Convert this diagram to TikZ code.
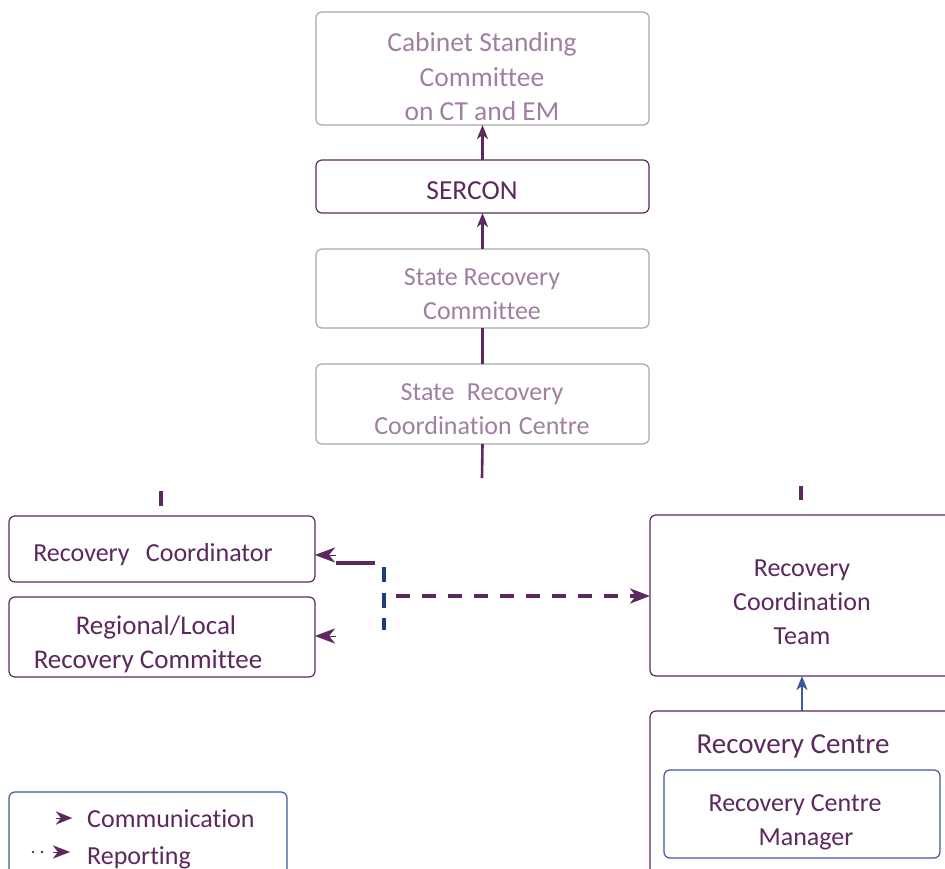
\documentclass[tikz,border=0pt]{standalone}
\usepackage{fontspec}
\setmainfont[Ligatures={NoCommon}]{Carlito}
\usetikzlibrary{arrows.meta}
\definecolor{dpurple}{RGB}{92,40,94}
\definecolor{lpurple}{RGB}{160,128,160}
\definecolor{boxgrey}{RGB}{168,168,168}
\definecolor{dblue}{RGB}{31,60,125}
\definecolor{bblue}{RGB}{60,90,155}
\tikzset{
  boxbase/.style={rounded corners=6pt, line width=1.2pt, inner sep=0pt, outer sep=0pt, fill=white},
  gbox/.style={boxbase, draw=boxgrey},
  pbox/.style={boxbase, draw=dpurple},
  bbox/.style={boxbase, draw=bblue},
  lbl/.style={font=\fontsize{26}{34}\selectfont, text=dpurple, align=center, inner sep=0pt},
  glbl/.style={lbl, text=lpurple},
  vconn/.style={draw=dpurple, line width=2.6pt},
  uphead/.style={-{Stealth[length=14pt,width=11pt,inset=4pt]}},
  bighead/.style={-{Stealth[length=20pt,width=15pt,inset=6pt]}},
}
\begin{document}
\begin{tikzpicture}[x=1pt,y=-1pt]
\useasboundingbox (0,0) rectangle (945,869);
\clip (0,0) rectangle (945,869);
\fill[white] (0,0) rectangle (945,869);

% top column boxes
\node[gbox, minimum width=333pt, minimum height=113pt] (cab) at (482.5,68.5) {};
\node[pbox, minimum width=333pt, minimum height=53pt] (serc) at (482.5,186.5) {};
\node[gbox, minimum width=333pt, minimum height=79pt] (src) at (482.5,288.5) {};
\node[gbox, minimum width=333pt, minimum height=80pt] (srcc) at (482.5,404) {};

\node[glbl, font=\fontsize{27.5}{34.5}\selectfont] (cabt) at (482,77) {Cabinet Standing\\Committee\\on CT and EM};
\node[lbl, font=\fontsize{27.5}{34}\selectfont] (sert) at (472,191) {SERCON};
\node[glbl] (srct) at (482,294.5) {State Recovery\\Committee};
\node[glbl] (srcct) at (482,409.5) {State\hspace{0.25em} Recovery\\Coordination\hspace{0.05em} Centre};

% left boxes
\node[pbox, minimum width=306pt, minimum height=66pt] (rc) at (162,549) {};
\node[pbox, minimum width=306pt, minimum height=80pt] (rl) at (162,637) {};
\node[lbl] (rct) at (153,555) {Recovery\hspace{0.4em} Coordinator};
\node[lbl, font=\fontsize{27}{34}\selectfont] (rlt) at (148,644) {\hspace{16pt}Regional/Local\\Recovery Committee};

% right boxes
\node[pbox, minimum width=304pt, minimum height=161pt] (team) at (802,595.5) {};
\node[lbl] (teamt) at (802,602) {Recovery\\Coordination\\Team};
\node[pbox, minimum width=304pt, minimum height=200pt] (cen) at (802,811) {};
\node[lbl, font=\fontsize{29}{34}\selectfont] (cent) at (793,746) {Recovery Centre};
\node[bbox, minimum width=276pt, minimum height=88pt] (mgr) at (802,814) {};
\node[lbl] (mgrt) at (795,822) {Recovery Centre\\\hspace{22pt}Manager};

% legend
\node[bbox, minimum width=278pt, minimum height=120pt] (leg) at (148,852) {};
\node[lbl, anchor=west] (legc) at (87,819) {Communication};
\node[lbl, anchor=west] (legr) at (87,858) {Reporting};
\coordinate (lca) at (56,818);
\coordinate (lcb) at (72,818);
\draw[dpurple, line width=0.1pt, -{Stealth[length=16pt,width=13pt,inset=5pt]}] (lca) -- (lcb);
\coordinate (lra) at (53,852);
\coordinate (lrb) at (70,852);
\coordinate (ld1) at (33,852);
\coordinate (ld2) at (42,852);
\fill[dpurple] (ld1) circle (1.3pt) (ld2) circle (1.3pt);
\draw[dpurple, line width=0.1pt, -{Stealth[length=17pt,width=13pt,inset=5pt]}] (lra) -- (lrb);

% vertical connectors
\draw[vconn, uphead] (serc.north) -- (cab.south);
\draw[vconn, uphead] (src.north) -- (serc.south);
\draw[vconn] (src.south) -- (srcc.north);
\coordinate (stub) at (482,478);
\draw[vconn] (srcc.south) -- (stub);

% small ticks
\coordinate (t1a) at (161,491);
\coordinate (t1b) at (161,506);
\draw[vconn, line width=3.5pt] (t1a) -- (t1b);
\coordinate (t2a) at (801,486);
\coordinate (t2b) at (801,500);
\draw[vconn, line width=3.5pt] (t2a) -- (t2b);

% communication arrows to left boxes
\coordinate (cm1) at (375,563);
\coordinate (cm2) at (336,563);
\draw[dpurple, line width=4pt] (cm1) -- (cm2);
\coordinate (h1) at (336,555);
\draw[dpurple, line width=0.1pt, bighead] (h1) -- (rc.east |- h1);
\coordinate (h2) at (336,636);
\draw[dpurple, line width=0.1pt, bighead] (h2) -- (rl.east |- h2);

% blue dashed vertical
\coordinate (bd1) at (384,567);
\coordinate (bd2) at (384,630);
\draw[dblue, line width=4pt, dash pattern=on 15pt off 10.5pt] (bd1) -- (bd2);

% purple dashed reporting arrow
\coordinate (pd) at (396,596);
\draw[dpurple, line width=4pt, dash pattern=on 14pt off 12pt, bighead] (pd) -- (team.west |- pd);

% blue arrow from recovery centre to team
\draw[bblue, line width=2.4pt, uphead] (cen.north) -- (team.south);
\end{tikzpicture}
\end{document}
